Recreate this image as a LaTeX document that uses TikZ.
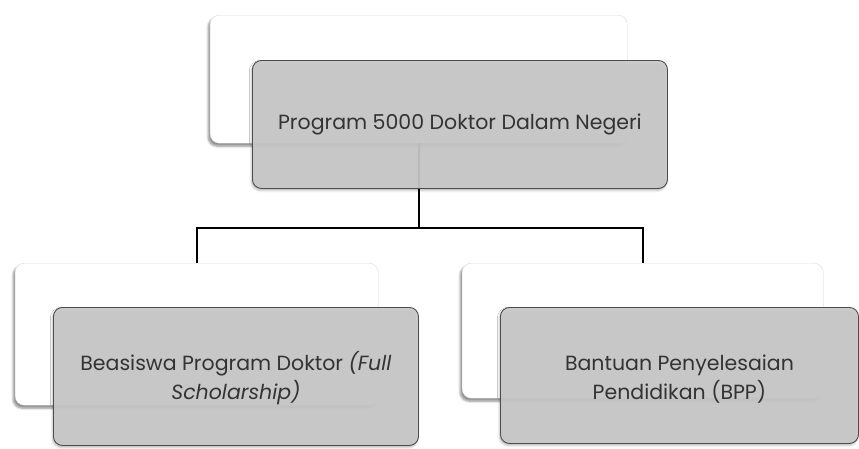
\documentclass[tikz,border=0pt]{standalone}
\usepackage{fontspec}
\setmainfont{Poppins}
\usetikzlibrary{shadows.blur}

\begin{document}
\begin{tikzpicture}[x=1pt,y=-1pt,
    backbox/.style={rectangle,rounded corners=9pt,anchor=north west,
                    draw=black!15,fill=white,
                    blur shadow={shadow xshift=-2pt,shadow yshift=-3pt,shadow blur steps=6,shadow opacity=45}},
    frontbox/.style={rectangle,rounded corners=9pt,anchor=north west,
                     draw=black!70,line width=0.9pt,fill=black!21,fill opacity=0.92,text opacity=1,
                     text=black!80,font=\fontsize{20.5}{29}\selectfont,align=center,
                     blur shadow={shadow xshift=-1pt,shadow yshift=-2pt,shadow blur steps=4,shadow opacity=30}},
    link/.style={draw=black,line width=2.2pt}
                   ]
    \useasboundingbox (0,0) rectangle (859,448);

    % back boxes
    \node[backbox,minimum width=417pt,minimum height=128pt](s0) at (210,15) {};
    \node[backbox,minimum width=363pt,minimum height=142pt](s1) at (15,263) {};
    \node[backbox,minimum width=361pt,minimum height=135pt](s2) at (462,263) {};

    % connectors
    \coordinate (j0) at (s0.south |- 0,228);
    \draw[link] (s0.south) -- (j0);
    \draw[link] (s1.north) |- (j0) -| (s2.north);

    % front boxes
    \node[frontbox,minimum width=415pt,minimum height=128pt](p0) at (252,60)
        {Program 5000 Doktor Dalam Negeri};
    \node[frontbox,minimum width=365pt,minimum height=138pt](p1) at (53,307)
        {\rule{0pt}{22pt}Beasiswa Program Doktor \textit{(Full}\\\textit{Scholarship)}};
    \node[frontbox,minimum width=358pt,minimum height=136pt](p2) at (500,307)
        {\rule{0pt}{22pt}Bantuan Penyelesaian\\Pendidikan (BPP)};

\end{tikzpicture}
\end{document}
